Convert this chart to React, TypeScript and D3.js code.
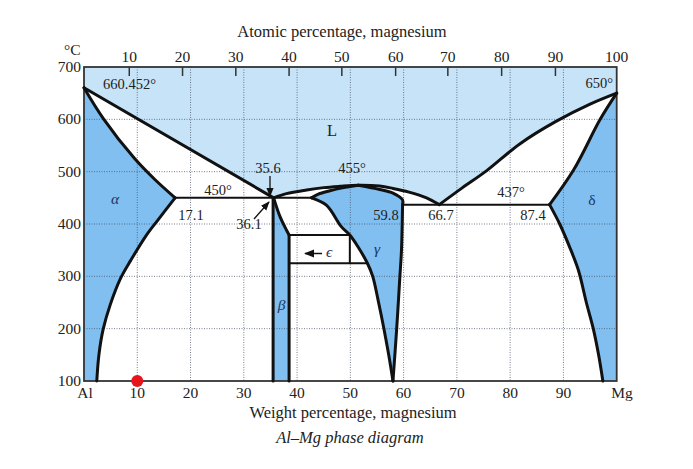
import React from "react";
import * as d3 from "d3";

type P = [number, number];

// Phase boundaries: [wt% Mg, °C]
const liquidusLeft: P[] = [[0, 660.452], [35.6, 450]];
const solidusAlpha: P[] = [[0, 660.452], [3.6, 602], [9.5, 525], [13.3, 485], [17.1, 450]];
const solvusAlpha: P[] = [[17.1, 450], [13.9, 408], [11.6, 377], [8.8, 331], [6.9, 297], [4.9, 245], [3.6, 199], [2.8, 150], [2.4, 100]];
const liquidusDome: P[] = [[35.6, 450], [38, 458], [41.8, 465], [45, 469.5], [48, 472], [51.5, 474], [55.5, 472.5], [58, 468], [61, 461], [64.3, 450], [66.7, 437]];
const gammaInnerLeft: P[] = [[42.7, 450], [44, 457], [46, 463], [48.5, 469], [51.5, 474]];
const gammaInnerRight: P[] = [[51.5, 474], [55.5, 466], [58, 459], [59.8, 446], [59.8, 437]];
const gammaRight: P[] = [[59.8, 437], [59.6, 350], [59.3, 300], [58.7, 200], [58, 100]];
const gammaSolvus: P[] = [[42.7, 450], [45.5, 436], [48.3, 395], [49.9, 379], [51.4, 357], [53.2, 325], [54.2, 300], [55.3, 250], [56.3, 200], [57.2, 150], [58, 100]];
const liquidusRight: P[] = [[66.7, 437], [71, 469], [75.6, 502], [81.8, 553], [88.6, 596], [95, 629], [100, 650]];
const solidusDelta: P[] = [[87.4, 437], [91.9, 503], [96.9, 600], [100, 650]];
const solvusDelta: P[] = [[87.4, 437], [89.3, 400], [91, 360], [92.8, 312], [94.3, 250], [95.6, 200], [96.6, 150], [97.4, 100]];
const betaLeft: P[] = [[35.5, 450], [35.5, 100]];
const betaRightTop: P[] = [[35.6, 450], [36.8, 414], [38, 388.5], [38.5, 379]];
const betaRightStem: P[] = [[38.5, 379], [38.5, 100]];
const eutectic1: P[] = [[17.1, 450], [42.7, 450]];
const eutectic2: P[] = [[59.8, 437], [87.4, 437]];
const epsTop: P[] = [[38.5, 379], [49.9, 379]];
const epsRightLine: P[] = [[49.9, 379], [49.9, 325]];
const epsBottom: P[] = [[38.5, 325], [53.2, 325]];

// Axes
const weightTicks = [10, 20, 30, 40, 50, 60, 70, 80, 90];
const tempTicks = [100, 200, 300, 400, 500, 600, 700];
const atomicLabels = [10, 20, 30, 40, 50, 60, 70, 80, 90, 100];
const atomicAtWeight = [8.5, 18.5, 28.5, 38.5, 48.4, 58.5, 68.3, 78.4, 88.5, 100];

const W = 693, H = 469;
const x = d3.scaleLinear().domain([0, 100]).range([84, 616.7]);
const y = d3.scaleLinear().domain([100, 700]).range([381, 67]);

const FONT = "'Liberation Serif', 'DejaVu Serif', serif";
const LIGHT = "#c6e3f8";
const MID = "#80bff0";
const INK = "#111";
const GREEK = "#1d3560";

const seg = (pts: P[], curved = true) =>
  (d3.line<P>().x(p => x(p[0])).y(p => y(p[1])).curve(curved && pts.length > 2 ? d3.curveCatmullRom.alpha(0.5) : d3.curveLinear)(pts) || "");
const rev = (pts: P[]) => pts.slice().reverse();
type Seg = { pts: P[]; c: boolean };
const C = (pts: P[]): Seg => ({ pts, c: true });
const S = (pts: P[]): Seg => ({ pts, c: false });
const poly = (...segs: Seg[]) => {
  let s = "";
  segs.forEach((sg, i) => {
    const p = seg(sg.pts, sg.c);
    s += i === 0 ? p : "L" + p.slice(1);
  });
  return s + "Z";
};

export default function App() {
  const lRegion = poly(S([[0, 700], [100, 700], [100, 650]]), C(rev(liquidusRight)), C(rev(liquidusDome)), S(rev(liquidusLeft)));
  const alphaRegion = poly(C(solidusAlpha), C(solvusAlpha), S([[2.4, 100], [0, 100]]));
  const deltaRegion = poly(C(rev(solidusDelta)), C(solvusDelta), S([[97.4, 100], [100, 100]]));
  const betaRegion = poly(C(betaRightTop), S([[38.5, 379], [38.5, 100], [35.5, 100], [35.5, 450]]));
  const gammaRegion = poly(C(gammaInnerLeft), C(gammaInnerRight), C(gammaRight), C(rev(gammaSolvus)));

  const thick = [solidusAlpha, solvusAlpha, liquidusDome, gammaInnerLeft, gammaInnerRight, gammaRight, gammaSolvus, liquidusRight, solidusDelta, solvusDelta, betaRightTop];
  const thickStraight = [liquidusLeft, betaLeft, betaRightStem];
  const thin = [eutectic1, eutectic2, epsTop, epsRightLine, epsBottom];

  const tickStyle: React.CSSProperties = { fontFamily: FONT, fontSize: 15.5, fill: "#222" };

  return (
    <svg width={W} height={H} style={{ position: "absolute", left: 0, top: 0, background: "#fff" }}>
      <defs>
        <marker id="ah" viewBox="0 0 10 10" refX="9" refY="5" markerWidth="7" markerHeight="7" orient="auto-start-reverse">
          <path d="M0,1 L10,5 L0,9 Z" fill={INK} />
        </marker>
      </defs>
      <rect x={x(0)} y={y(700)} width={x(100) - x(0)} height={y(100) - y(700)} fill="#fff" />
      <path d={lRegion} fill={LIGHT} />
      <path d={alphaRegion} fill={MID} />
      <path d={deltaRegion} fill={MID} />
      <path d={betaRegion} fill={MID} />
      <path d={gammaRegion} fill={MID} />

      {/* grid */}
      {weightTicks.map(t => (
        <line key={"gx" + t} x1={x(t)} x2={x(t)} y1={y(700)} y2={y(100)} stroke="#4a5468" strokeWidth={1} strokeDasharray="1,1.5" opacity={0.75} />
      ))}
      {tempTicks.filter(t => t > 100 && t < 700).map(t => (
        <line key={"gy" + t} x1={x(0)} x2={x(100)} y1={y(t)} y2={y(t)} stroke="#4a5468" strokeWidth={1} strokeDasharray="1,1.5" opacity={0.75} />
      ))}

      {/* frame */}
      <rect x={x(0)} y={y(700)} width={x(100) - x(0)} height={y(100) - y(700)} fill="none" stroke="#333" strokeWidth={1.8} />
      {atomicAtWeight.slice(0, 9).map((w, i) => (
        <line key={"at" + i} x1={x(w)} x2={x(w)} y1={y(700)} y2={y(700) + 9} stroke="#333" strokeWidth={1.5} />
      ))}

      {/* boundaries */}
      {thin.map((pts, i) => (
        <path key={"t" + i} d={seg(pts, false)} fill="none" stroke={INK} strokeWidth={2} />
      ))}
      {thick.map((pts, i) => (
        <path key={"k" + i} d={seg(pts)} fill="none" stroke={INK} strokeWidth={3} strokeLinejoin="round" strokeLinecap="round" />
      ))}
      {thickStraight.map((pts, i) => (
        <path key={"s" + i} d={seg(pts, false)} fill="none" stroke={INK} strokeWidth={3} strokeLinecap="round" />
      ))}

      {/* y ticks */}
      {tempTicks.map(t => (
        <text key={"yl" + t} x={x(0) - 3} y={y(t) + 5} textAnchor="end" style={tickStyle}>{t}</text>
      ))}
      <text x={64} y={55} style={tickStyle}>°C</text>

      {/* top axis */}
      <text x={342} y={37} textAnchor="middle" style={{ ...tickStyle, fontSize: 16.5 }}>Atomic percentage, magnesium</text>
      {atomicLabels.map((a, i) => (
        <text key={"al" + a} x={x(atomicAtWeight[i])} y={62} textAnchor="middle" style={tickStyle}>{a}</text>
      ))}

      {/* bottom axis */}
      <text x={x(0) + 1} y={398} textAnchor="middle" style={tickStyle}>Al</text>
      {weightTicks.map(t => (
        <text key={"bl" + t} x={x(t)} y={398} textAnchor="middle" style={tickStyle}>{t}</text>
      ))}
      <text x={622} y={398} textAnchor="middle" style={tickStyle}>Mg</text>
      <text x={353} y={418} textAnchor="middle" style={{ ...tickStyle, fontSize: 16.5 }}>Weight percentage, magnesium</text>
      <text x={350} y={443} textAnchor="middle" style={{ ...tickStyle, fontSize: 16.5, fontStyle: "italic" }}>Al–Mg phase diagram</text>

      {/* annotations */}
      <g style={{ fontFamily: FONT, fontSize: 14.5, fill: "#222" }}>
        <text x={103} y={89}>660.452°</text>
        <text x={613} y={88} textAnchor="end">650°</text>
        <text x={332} y={136} textAnchor="middle" fontSize={16.5}>L</text>
        <text x={268} y={173} textAnchor="middle">35.6</text>
        <text x={352} y={173} textAnchor="middle">455°</text>
        <text x={218} y={195} textAnchor="middle">450°</text>
        <text x={191} y={220} textAnchor="middle">17.1</text>
        <text x={249} y={229} textAnchor="middle">36.1</text>
        <text x={386} y={220} textAnchor="middle">59.8</text>
        <text x={441} y={220} textAnchor="middle">66.7</text>
        <text x={511} y={197} textAnchor="middle">437°</text>
        <text x={533} y={220} textAnchor="middle">87.4</text>
      </g>
      <g style={{ fontFamily: FONT, fontSize: 15.5, fill: GREEK, fontStyle: "italic" }}>
        <text x={115} y={204} textAnchor="middle">α</text>
        <text x={592} y={205} textAnchor="middle" fontStyle="normal">δ</text>
        <text x={377} y={254} textAnchor="middle">γ</text>
        <text x={281.5} y={310} textAnchor="middle">β</text>
        <text x={329} y={257} textAnchor="middle">ϵ</text>
      </g>
      <line x1={270} y1={176} x2={270} y2={196} stroke={INK} strokeWidth={1.3} markerEnd="url(#ah)" />
      <line x1={254} y1={219} x2={269} y2={202} stroke={INK} strokeWidth={1.3} markerEnd="url(#ah)" />
      <line x1={322} y1={253.5} x2={305} y2={253.5} stroke={INK} strokeWidth={1.5} markerEnd="url(#ah)" />

      <circle cx={x(10)} cy={y(100)} r={6} fill="#e8141b" />
    </svg>
  );
}
